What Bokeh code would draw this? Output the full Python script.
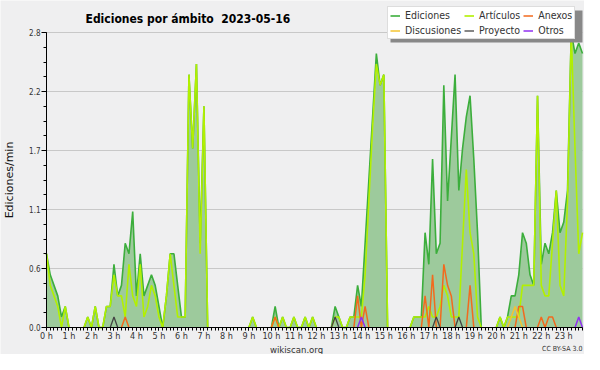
import numpy as np
from bokeh.plotting import figure
from bokeh.models import (Range1d, FixedTicker, PrintfTickFormatter, Label,
                          Legend, LegendItem, ColumnDataSource, BoxAnnotation)
from bokeh.embed import file_html
from bokeh.resources import INLINE

# one value every 10 minutes (edits per minute), rows = hours 0..23
ediciones = [
    0.7, 0.5, 0.4, 0.3, 0.1, 0.2,
    0.0, 0.0, 0.0, 0.0, 0.0, 0.1,
    0.0, 0.2, 0.0, 0.0, 0.2, 0.2,
    0.6, 0.3, 0.4, 0.8, 0.7, 1.1,
    0.3, 0.7, 0.3, 0.4, 0.5, 0.4,
    0.2, 0.0, 0.3, 0.7, 0.7, 0.4,
    0.1, 0.1, 2.4, 1.7, 2.5, 0.8,
    2.1, 0.0, 0.0, 0.0, 0.0, 0.0,
    0.0, 0.0, 0.0, 0.0, 0.0, 0.0,
    0.0, 0.1, 0.0, 0.0, 0.0, 0.0,
    0.0, 0.2, 0.0, 0.1, 0.0, 0.0,
    0.1, 0.0, 0.0, 0.1, 0.0, 0.1,
    0.0, 0.0, 0.0, 0.0, 0.0, 0.2,
    0.1, 0.0, 0.0, 0.1, 0.1, 0.4,
    0.2, 0.8, 1.4, 2.0, 2.6, 2.3,
    2.4, 0.0, 0.0, 0.0, 0.0, 0.0,
    0.0, 0.0, 0.1, 0.1, 0.1, 0.9,
    0.6, 1.6, 0.7, 0.8, 2.3, 1.2,
    1.8, 2.4, 1.3, 1.7, 2.0, 2.2,
    1.6, 0.9, 0.0, 0.0, 0.0, 0.0,
    0.0, 0.1, 0.0, 0.1, 0.3, 0.3,
    0.5, 0.9, 0.8, 0.5, 0.4, 2.2,
    0.6, 0.8, 0.7, 0.9, 1.3, 0.9,
    1.0, 1.3, 2.8, 2.6, 2.7, 2.6,
]
articulos = [
    0.7, 0.4, 0.3, 0.2, 0.0, 0.2,
    0.0, 0.0, 0.0, 0.0, 0.0, 0.1,
    0.0, 0.2, 0.0, 0.0, 0.2, 0.2,
    0.5, 0.3, 0.3, 0.1, 0.6, 0.3,
    0.2, 0.6, 0.1, 0.2, 0.4, 0.3,
    0.1, 0.0, 0.3, 0.7, 0.4, 0.1,
    0.1, 0.1, 2.4, 1.7, 2.5, 0.7,
    2.1, 0.0, 0.0, 0.0, 0.0, 0.0,
    0.0, 0.0, 0.0, 0.0, 0.0, 0.0,
    0.0, 0.1, 0.0, 0.0, 0.0, 0.0,
    0.0, 0.1, 0.0, 0.1, 0.0, 0.0,
    0.1, 0.0, 0.0, 0.1, 0.0, 0.1,
    0.0, 0.0, 0.0, 0.0, 0.0, 0.1,
    0.1, 0.0, 0.0, 0.1, 0.1, 0.1,
    0.1, 0.5, 1.2, 1.9, 2.5, 2.3,
    2.4, 0.0, 0.0, 0.0, 0.0, 0.0,
    0.0, 0.0, 0.1, 0.1, 0.1, 0.1,
    0.2, 0.1, 0.1, 0.2, 0.4, 0.3,
    0.1, 0.1, 0.1, 0.8, 1.5, 0.9,
    0.7, 0.1, 0.0, 0.0, 0.0, 0.0,
    0.0, 0.1, 0.0, 0.1, 0.1, 0.1,
    0.1, 0.4, 0.4, 0.4, 0.4, 2.2,
    0.4, 0.3, 0.3, 0.8, 1.3, 0.4,
    0.3, 1.2, 2.8, 1.7, 0.7, 0.9,
]
anexos = [
    0, 0, 0, 0, 0, 0,
    0, 0, 0, 0, 0, 0,
    0, 0, 0, 0, 0, 0,
    0, 0, 0, 0.1, 0, 0,
    0, 0, 0, 0, 0, 0,
    0, 0, 0, 0, 0, 0,
    0, 0, 0, 0, 0, 0,
    0, 0, 0, 0, 0, 0,
    0, 0, 0, 0, 0, 0,
    0, 0, 0, 0, 0, 0,
    0, 0.1, 0, 0, 0, 0,
    0, 0, 0, 0, 0, 0,
    0, 0, 0, 0, 0, 0,
    0, 0, 0, 0, 0, 0.3,
    0, 0.2, 0, 0, 0, 0,
    0, 0, 0, 0, 0, 0,
    0, 0, 0, 0, 0, 0.3,
    0, 0.5, 0, 0, 0.6, 0.4,
    0.3, 0, 0, 0, 0, 0.4,
    0, 0, 0, 0, 0, 0,
    0, 0, 0, 0, 0, 0,
    0.2, 0.2, 0, 0, 0, 0,
    0.1, 0, 0.1, 0.1, 0, 0,
    0, 0, 0, 0, 0, 0,
]
discusiones = [0] * 144
discusiones[124:127] = [0.1, 0.2, 0.1]
proyecto = [0] * 144
for _i in (18, 77, 104, 110):
    proyecto[_i] = 0.1
otros = [0] * 144
for _i in (84, 142):
    otros[_i] = 0.1

hour_ticks = list(range(24))
hours = [i / 6 for i in range(len(ediciones))]
ymax = max(ediciones)
yticks = [ymax * k / 5 for k in range(6)]


def trim_zero_runs(vals):
    """Hide line pieces lying flat on the zero axis (keeps spike endpoints)."""
    n = len(vals)
    out = []
    for i, v in enumerate(vals):
        prev = vals[i - 1] if i > 0 else 0
        nxt = vals[i + 1] if i < n - 1 else 0
        out.append(np.nan if (v == 0 and prev == 0 and nxt == 0) else v)
    return np.array(out, dtype=float)


src = ColumnDataSource(dict(
    t=np.array(hours), e=np.array(ediciones, dtype=float),
    le=trim_zero_runs(ediciones), la=trim_zero_runs(articulos),
    ln=trim_zero_runs(anexos), ld=trim_zero_runs(discusiones),
    lp=trim_zero_runs(proyecto), lo=trim_zero_runs(otros)))

FONT = "DejaVu Sans Condensed"
BG = "#efeff0"
W, H = 584, 354
# canvas pixel layout (the frame covers the whole canvas)
X0, X1 = 46, 582      # canvas x of first / last sample
Y0, YTOP = 327, 32    # canvas y of 0 and of ymax
sx = (X1 - X0) / hours[-1]
sy = (Y0 - YTOP) / ymax
x_range = Range1d(-X0 / sx, hours[-1] + (W - X1) / sx)
y_range = Range1d(-(H - Y0) / sy, Y0 / sy)

p = figure(width=W, height=H, output_backend="svg", toolbar_location=None,
           x_range=x_range, y_range=y_range,
           min_border_left=0, min_border_right=0, min_border_top=0,
           min_border_bottom=0,
           background_fill_color=BG, border_fill_color=BG,
           outline_line_color=None)

# horizontal grid limited to the data span
grid = p.ygrid[0]
if "cross_bounds" in grid.properties():
    grid.cross_bounds = (0, hours[-1])
    grid.grid_line_color = "#c8c8c8"
else:
    grid.visible = False
    p.segment(x0=[0] * len(yticks), x1=[hours[-1]] * len(yticks),
              y0=yticks, y1=yticks, line_color="#c8c8c8", line_width=1)
p.xgrid.visible = False

p.varea(x="t", y1=0, y2="e", source=src, fill_color="#9dca9c", fill_alpha=1)
r_e = p.line("t", "le", source=src, line_color="#3cae3c", line_width=1.6)
r_a = p.line("t", "la", source=src, line_color="#b2f000", line_width=1.6)
r_n = p.line("t", "ln", source=src, line_color="#f26a1e", line_width=1.5)
r_d = p.line("t", "ld", source=src, line_color="#f4c430", line_width=1.5)
r_p = p.line("t", "lp", source=src, line_color="#444444", line_width=1.3)
r_o = p.line("t", "lo", source=src, line_color="#9130f0", line_width=1.5)

# axes, drawn at the data origin inside the frame
p.xaxis.fixed_location = 0
p.yaxis.fixed_location = 0
p.xaxis.bounds = (0, hours[-1])
p.yaxis.bounds = (0, ymax)
p.xaxis.ticker = FixedTicker(ticks=hour_ticks, minor_ticks=hours)
p.xaxis.formatter = PrintfTickFormatter(format="%d h")
p.yaxis.ticker = FixedTicker(ticks=yticks,
                             minor_ticks=[ymax * k / 20 for k in range(21)])
p.yaxis.formatter = PrintfTickFormatter(format="%.1f")
for ax in (p.xaxis, p.yaxis):
    ax.axis_line_color = "black"
    ax.major_tick_line_color = "black"
    ax.minor_tick_line_color = "black"
    ax.major_tick_in = 0
    ax.minor_tick_in = 0
    ax.major_label_text_color = "#333333"
    ax.major_label_text_font = FONT
p.xaxis.major_label_standoff = 0
p.yaxis.major_label_standoff = 1
p.xaxis.major_tick_out = 3
p.xaxis.minor_tick_out = 3
p.yaxis.major_tick_out = 5
p.yaxis.minor_tick_out = 3
p.xaxis.major_label_text_font_size = "9px"
p.yaxis.major_label_text_font_size = "8px"
p.yaxis.axis_label = "Ediciones/min"
p.yaxis.axis_label_text_font = "DejaVu Sans"
p.yaxis.axis_label_text_font_style = "normal"
p.yaxis.axis_label_text_font_size = "11px"
p.yaxis.axis_label_text_color = "#111111"
p.yaxis.axis_label_standoff = 10

# legend (column-major order so rows read like the original)
LEG_W, LEG_H = 192, 32
LEG_X = 579 - LEG_W           # canvas left edge
LEG_Y = H - 39                # bottom edge, measured from the canvas bottom
shadow = BoxAnnotation(left=LEG_X + 3, right=LEG_X + LEG_W + 3,
                       bottom=LEG_Y - 3, top=LEG_Y + LEG_H - 3,
                       left_units="screen", right_units="screen",
                       bottom_units="screen", top_units="screen",
                       fill_color="#888888", fill_alpha=1, line_color=None)
p.add_layout(shadow)
legend = Legend(items=[
    LegendItem(label="Ediciones", renderers=[r_e]),
    LegendItem(label="Discusiones", renderers=[r_d]),
    LegendItem(label="Artículos", renderers=[r_a]),
    LegendItem(label="Proyecto", renderers=[r_p]),
    LegendItem(label="Anexos", renderers=[r_n]),
    LegendItem(label="Otros", renderers=[r_o]),
], ncols=3, location=(LEG_X, LEG_Y))
legend.glyph_width = 10
legend.glyph_height = 9
legend.label_height = 9
legend.label_standoff = 5
legend.spacing = 3
legend.padding = 2
legend.margin = 0
legend.label_text_font = FONT
legend.label_text_font_size = "10.5px"
legend.label_text_line_height = 0.85
legend.label_text_color = "#333333"
legend.background_fill_color = "white"
legend.background_fill_alpha = 1
legend.border_line_color = "#bbbbbb"
legend.border_line_width = 1
p.add_layout(legend, "center")

p.add_layout(Label(x=85, y=H - 18.5, x_units="screen", y_units="screen",
                   text="Ediciones por ámbito\u00a0 2023-05-16",
                   text_baseline="alphabetic",
                   text_font=FONT, text_font_style="bold",
                   text_font_size="12px", text_color="black"))
p.add_layout(Label(x=296, y=H - 348.5, x_units="screen", y_units="screen",
                   text="wikiscan.org", text_align="center",
                   text_baseline="alphabetic",
                   text_font=FONT, text_font_size="9.5px", text_color="#333333"))
p.add_layout(Label(x=X1, y=H - 348.5, x_units="screen", y_units="screen",
                   text="CC BY-SA 3.0", text_align="right",
                   text_baseline="alphabetic",
                   text_font=FONT, text_font_size="7px", text_color="#333333"))

open("out.html", "w").write(file_html(p, INLINE))
